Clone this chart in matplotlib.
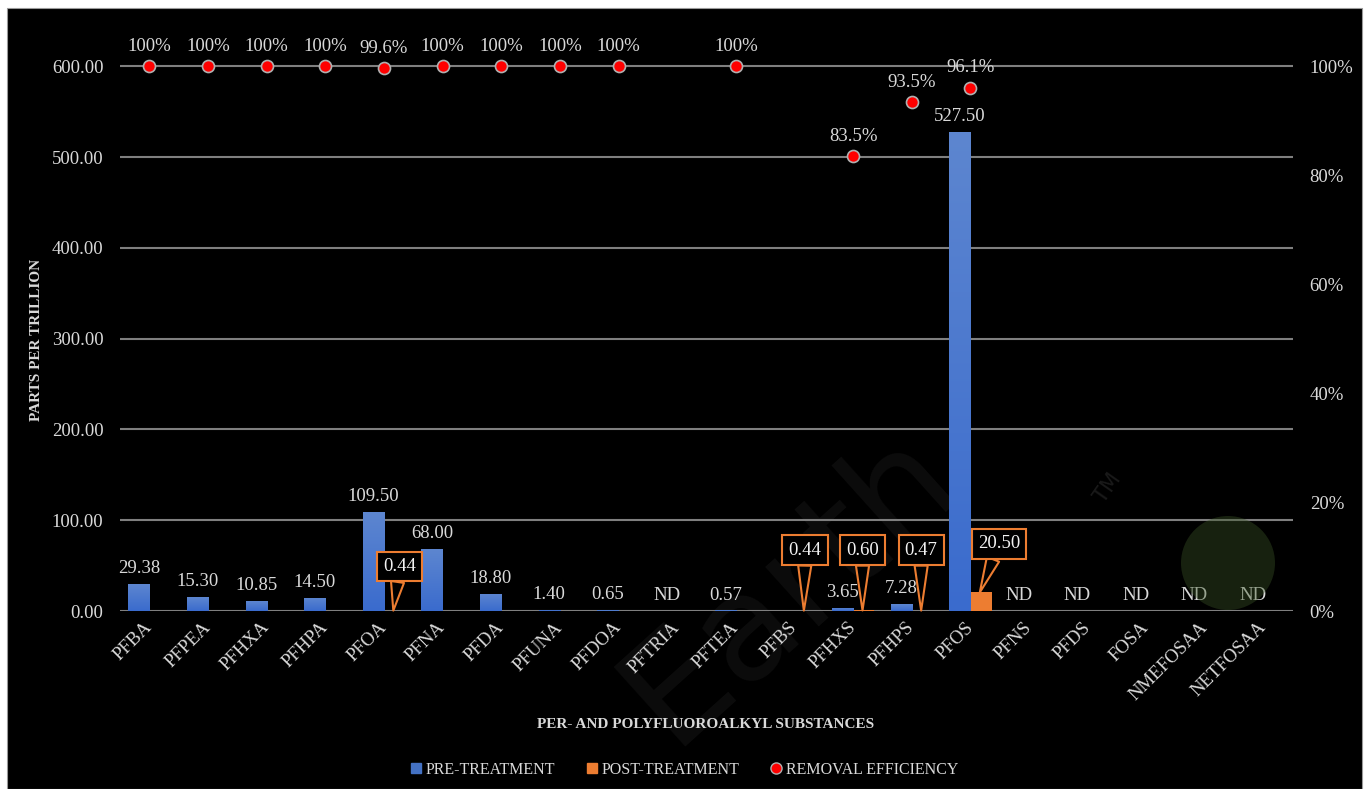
import matplotlib
matplotlib.use("Agg")
import matplotlib.pyplot as plt
import numpy as np
from matplotlib.lines import Line2D
from matplotlib.patches import Ellipse, Rectangle
from matplotlib.colors import LinearSegmentedColormap

# ---------------- data ----------------
categories = ["PFBA", "PFPeA", "PFHxA", "PFHpA", "PFOA", "PFNA", "PFDA", "PFUnA",
              "PFDoA", "PFTrIA", "PFTeA", "PFBS", "PFHxS", "PFHpS", "PFOS", "PFNS",
              "PFDS", "FOSA", "NMeFOSAA", "NEtFOSAA"]
pre_treatment = [29.38, 15.30, 10.85, 14.50, 109.50, 68.00, 18.80, 1.40, 0.65, None,
                 0.57, None, 3.65, 7.28, 527.50, None, None, None, None, None]
post_treatment = [None, None, None, None, 0.44, None, None, None, None, None,
                  None, 0.44, 0.60, 0.47, 20.50, None, None, None, None, None]
removal_efficiency = [1.0, 1.0, 1.0, 1.0, 0.996, 1.0, 1.0, 1.0, 1.0, None,
                      1.0, None, 0.835, 0.935, 0.961, None, None, None, None, None]
not_detected = ["PFTrIA", "PFNS", "PFDS", "FOSA", "NMeFOSAA", "NEtFOSAA"]
left_ticks = [0, 100, 200, 300, 400, 500, 600]
right_ticks = [0.0, 0.2, 0.4, 0.6, 0.8, 1.0]

# callout box placement (layout only): (x shift in category units, box centre height)
callout_layout = {"PFOA": (0.09, 49), "PFBS": (0.0, 67), "PFHxS": (-0.02, 67),
                  "PFHpS": (-0.02, 67), "PFOS": (0.31, 74)}

# ---------------- style ----------------
FONT = "Liberation Serif"
TXT = "#d9d9d9"
GRID = "#7f7f7f"
BLUE_TOP, BLUE_BOT = "#5d86d0", "#3a6bcd"
ORANGE = "#ed7d31"
plt.rcParams["font.family"] = FONT

W, H = 1367, 789
fig = plt.figure(figsize=(W / 100, H / 100), dpi=100, facecolor="white")
# black chart background with thin white frame
fig.patches.append(Rectangle((7 / W, 0), (1362 - 7) / W, (H - 8) / H,
                             transform=fig.transFigure, facecolor="black",
                             edgecolor="#9a9a9a", lw=0.8, zorder=-2))

# faint watermark (behind the chart)
fig.text(790 / W, 1 - 585 / H, "Earth", rotation=42, ha="center", va="center",
         fontsize=105, color="#0c0c0c", zorder=-1, family="DejaVu Sans")
fig.text(1108 / W, 1 - 488 / H, "TM", rotation=55, ha="center", va="center",
         fontsize=15, color="#1a1a1a", zorder=-1, family="DejaVu Sans")

ax = fig.add_axes([120 / W, (H - 611) / H, 1173 / W, 581 / H])
ax.set_facecolor("none")
ax2 = ax.twinx()
ax2.set_facecolor("none")

x = np.arange(len(categories))
bw = 0.36
off = 0.18
ymax = 640

for a in (ax, ax2):
    for s in a.spines.values():
        s.set_visible(False)
    a.tick_params(length=0, colors=TXT)

ax.set_yticks(left_ticks)
ax.set_yticklabels([f"{v:.2f}" for v in left_ticks], fontsize=13.5, color=TXT)
ax.tick_params(axis="y", pad=12)
ax2.set_ylim(0, ymax / 600)
ax2.set_yticks(right_ticks)
ax2.set_yticklabels([f"{v*100:.0f}%" for v in right_ticks], fontsize=13.5, color=TXT)
ax2.tick_params(axis="y", pad=12)
ax.yaxis.grid(True, color=GRID, lw=1.5, zorder=0)
ax.set_axisbelow(True)

ax.set_xticks(x)
ax.set_xticklabels([c.upper() for c in categories], rotation=45, ha="right",
                   va="center", rotation_mode="anchor", fontsize=13.5, color=TXT)
ax.tick_params(axis="x", pad=10)

# gradient for blue bars
grad = np.linspace(0, 1, 256).reshape(-1, 1)
bcmap = LinearSegmentedColormap.from_list("b", [BLUE_BOT, BLUE_TOP])

pre_vals = [v if v is not None else 0 for v in pre_treatment]
bars = ax.bar(x - off, pre_vals, bw, color=BLUE_BOT, zorder=2)
for b, v in zip(bars, pre_treatment):
    if v is None:
        continue
    x0, w_, h_ = b.get_x(), b.get_width(), b.get_height()
    im = ax.imshow(grad, extent=[x0, x0 + w_, 0, h_], origin="lower", cmap=bcmap,
                   aspect="auto", zorder=2.1)
    im.set_clip_path(b)

post_vals = [v if v is not None else 0 for v in post_treatment]
ax.bar(x + off, post_vals, bw, color=ORANGE, zorder=2)
ax.set_xlim(-0.5, len(categories) - 0.5)
ax.set_ylim(0, ymax)

# pre-treatment labels
for i, (c, v) in enumerate(zip(categories, pre_treatment)):
    if v is not None:
        ax.annotate(f"{v:.2f}", (i - off, v), xytext=(0, 5), textcoords="offset points",
                    ha="center", va="bottom", fontsize=13.5, color=TXT, zorder=5)
    elif c in not_detected:
        ax.annotate("ND", (i - off, 0), xytext=(0, 5), textcoords="offset points",
                    ha="center", va="bottom", fontsize=13.5, color=TXT, zorder=5)

# post-treatment callouts
for i, (c, v) in enumerate(zip(categories, post_treatment)):
    if v is None:
        continue
    dx, yb = callout_layout[c]
    ax.annotate(f"{v:.2f}", xy=(i + off - 0.02, v), xytext=(i + off + dx, yb),
                textcoords="data", ha="center", va="center", fontsize=13.5,
                color="#f2f2f2", zorder=6,
                bbox=dict(boxstyle="square,pad=0.33", fc="black", ec=ORANGE, lw=1.5),
                arrowprops=dict(arrowstyle="wedge,tail_width=0.7,shrink_factor=0.5",
                                fc="black", ec=ORANGE, lw=1.5, shrinkA=0, shrinkB=0))

# removal efficiency
eff_x = [i for i, v in enumerate(removal_efficiency) if v is not None]
eff_y = [v for v in removal_efficiency if v is not None]
ax2.scatter(eff_x, eff_y, s=75, color="#ff0000", edgecolor="#b0b0b0", lw=1.2, zorder=5)
for xi, v in zip(eff_x, eff_y):
    lab = "100%" if v >= 0.9995 else f"{v*100:.1f}%"
    ax2.annotate(lab, (xi, v), xytext=(0, 8), textcoords="offset points",
                 ha="center", va="bottom", fontsize=13.5, color=TXT, zorder=6)

# axis titles
fig.text(37 / W, 1 - 340 / H, "PARTS PER TRILLION", rotation=90, ha="center",
         va="center", fontsize=11, color=TXT, fontweight="bold")
fig.text(706 / W, 1 - 724 / H, "PER- AND POLYFLUOROALKYL SUBSTANCES", ha="center",
         va="center", fontsize=11, color=TXT, fontweight="bold")

# legend
handles = [Line2D([], [], marker="s", ls="", color="#4472c4", markersize=7),
           Line2D([], [], marker="s", ls="", color=ORANGE, markersize=7),
           Line2D([], [], marker="o", ls="", color="#ff0000", markeredgecolor="#b0b0b0",
                  markersize=8)]
leg = fig.legend(handles, ["PRE-TREATMENT", "POST-TREATMENT", "REMOVAL EFFICIENCY"],
                 loc="center", bbox_to_anchor=(684 / W, 19 / H), ncol=3, frameon=False,
                 fontsize=11.5, handlelength=0.8, handletextpad=0.2, columnspacing=1.9)
for t in leg.get_texts():
    t.set_color(TXT)

# faint green circle overlay
fig.patches.append(Ellipse((1228 / W, 1 - 563 / H), 94 / W, 94 / H, transform=fig.transFigure,
                           facecolor="#3a5526", alpha=0.4, edgecolor="none", zorder=10))

fig.savefig("out.png", dpi=100, facecolor=fig.get_facecolor())
